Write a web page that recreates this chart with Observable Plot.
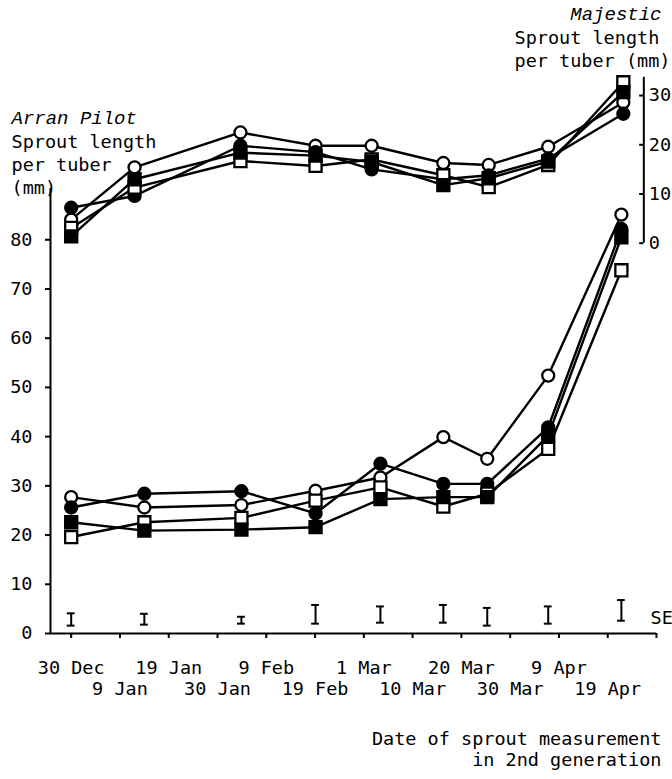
<!DOCTYPE html>
<html><head><meta charset="utf-8">
<script src="https://cdn.jsdelivr.net/npm/d3@7"></script>
<script src="https://cdn.jsdelivr.net/npm/@observablehq/plot@0.6"></script>
<style>body{margin:0;background:#fff}</style>
</head><body><div id="chart"></div>
<script>
// Measurement dates, in days after 30 Dec (axis ticks every 10 days)
const arranDays    = [0, 15.0, 34.9, 50.1, 63.4, 76.3, 85.3, 97.8, 112.8];
const majesticDays = [0, 13.0, 34.7, 50.1, 61.6, 76.3, 85.6, 97.8, 113.2];

// Arran Pilot sprout length per tuber (mm), left axis
const arranOpenCircle   = [27.7, 25.6, 26.1, 29.0, 31.7, 39.9, 35.5, 52.4, 85.1];
const arranFilledCircle = [25.6, 28.4, 28.9, 24.4, 34.5, 30.4, 30.4, 41.9, 82.2];
const arranOpenSquare   = [19.6, 22.6, 23.5, 27.0, 29.7, 25.8, 28.4, 37.5, 73.8];
const arranFilledSquare = [22.6, 20.9, 21.1, 21.6, 27.3, 27.7, 27.7, 40.2, 80.5];

// Majestic sprout length per tuber (mm), right axis
const majOpenCircle   = [4.8, 15.4, 22.5, 19.8, 19.8, 16.3, 15.9, 19.6, 28.6];
const majFilledCircle = [7.2, 9.6, 19.8, 18.5, 15.0, 13.0, 13.8, 17.2, 26.3];
const majOpenSquare   = [3.1, 11.3, 16.7, 15.7, 17.0, 13.8, 11.4, 15.9, 32.7];
const majFilledSquare = [1.4, 13.0, 18.4, 17.8, 16.5, 11.8, 13.2, 16.6, 30.7];

// Standard errors (bar ends, mm on left axis) at Arran Pilot dates
const seLow  = [1.6, 1.8, 2.0, 2.0, 2.2, 2.2, 1.6, 2.0, 2.6];
const seHigh = [4.1, 4.0, 3.4, 5.8, 5.5, 5.8, 5.2, 5.5, 6.8];

// Axes
const leftTicks  = [0, 10, 20, 30, 40, 50, 60, 70, 80];
const rightTicks = [0, 10, 20, 30];
const tickDays   = [0, 10, 20, 30, 40, 50, 60, 70, 80, 90, 100, 110, 120];
const tickLabels = ["30 Dec", "9 Jan", "19 Jan", "30 Jan", "9 Feb", "19 Feb",
                    "1 Mar", "10 Mar", "20 Mar", "30 Mar", "9 Apr", "19 Apr"];

// Layout constants
const majesticOffset = 79.3;   // right-axis zero, in left-axis units
const xDomain = [-4.24, 120];
const yDomain = [0, 115];
const leftAxisTop = 90.4;
const rightAxisDay = 117.4;
const rightAxisTop = 33.7;

const seriesDefs = [
  {name: "openCircle",   symbol: "circle", fill: "white", a: arranOpenCircle,   m: majOpenCircle},
  {name: "filledCircle", symbol: "circle", fill: "black", a: arranFilledCircle, m: majFilledCircle},
  {name: "openSquare",   symbol: "square", fill: "white", a: arranOpenSquare,   m: majOpenSquare},
  {name: "filledSquare", symbol: "square", fill: "black", a: arranFilledSquare, m: majFilledSquare}
];

const rows = [];
for (const s of seriesDefs) {
  s.a.forEach((v, i) => rows.push({variety: "Arran Pilot", series: s.name, day: arranDays[i], y: v}));
  s.m.forEach((v, i) => rows.push({variety: "Majestic", series: s.name, day: majesticDays[i], y: v + majesticOffset}));
}
const se = arranDays.map((d, i) => ({day: d, lo: seLow[i], hi: seHigh[i]}));
const rightTickRows = rightTicks.map(t => ({v: t, y: t + majesticOffset}));
const tickRows = tickLabels.map((t, i) => ({day: tickDays[i], label: t, row: i % 2}));

const font = "DejaVu Sans Mono";
const dotMarks = seriesDefs.map(s => Plot.dot(rows.filter(r => r.series === s.name), {
  x: "day", y: "y", symbol: s.symbol, fill: s.fill, stroke: "black",
  strokeWidth: 2.3, r: s.symbol === "circle" ? 6 : 6.8
}));

const chart = Plot.plot({
  width: 672, height: 779,
  marginLeft: 50, marginRight: 16, marginTop: 67, marginBottom: 146,
  style: {fontFamily: font, fontSize: "18.5px", background: "white", color: "black"},
  x: {domain: xDomain, axis: null},
  y: {domain: yDomain, axis: null},
  marks: [
    // left axis
    Plot.ruleX([xDomain[0]], {x: d => d, y1: 0, y2: leftAxisTop, strokeWidth: 2}),
    Plot.axisY({anchor: "left", ticks: leftTicks, tickSize: 5, tickPadding: 13, label: null, strokeWidth: 2}),
    // right axis (Majestic)
    Plot.ruleX([rightAxisDay], {x: d => d, y1: majesticOffset, y2: majesticOffset + rightAxisTop, strokeWidth: 2}),
    Plot.ruleY(rightTickRows, {y: "y", x1: rightAxisDay - 0.85, x2: rightAxisDay, strokeWidth: 2}),
    Plot.text(rightTickRows, {y: "y", x: rightAxisDay, text: d => String(d.v), dx: 5, textAnchor: "start"}),
    // x axis
    Plot.ruleY([0], {strokeWidth: 2}),
    Plot.axisX({ticks: tickDays, tickSize: 5, tickFormat: () => "", label: null, strokeWidth: 2}),
    Plot.text(tickRows.filter(d => d.row === 0), {x: "day", text: "label", frameAnchor: "bottom", dy: 40}),
    Plot.text(tickRows.filter(d => d.row === 1), {x: "day", text: "label", frameAnchor: "bottom", dy: 61}),
    // SE bars
    Plot.ruleX(se, {x: "day", y1: "lo", y2: "hi", strokeWidth: 2}),
    Plot.ruleY(se, {y: "lo", x1: d => d.day - 0.8, x2: d => d.day + 0.8, strokeWidth: 2}),
    Plot.ruleY(se, {y: "hi", x1: d => d.day - 0.8, x2: d => d.day + 0.8, strokeWidth: 2}),
    Plot.text(["SE"], {frameAnchor: "bottom-right", dx: -6, dy: -15, textAnchor: "start", lineAnchor: "middle"}),
    // data lines and markers
    Plot.line(rows, {x: "day", y: "y", z: d => d.variety + d.series, stroke: "black", strokeWidth: 2.4}),
    ...dotMarks,
    // titles
    Plot.text(["Majestic"], {frameAnchor: "top-right", dx: 5, dy: -54, textAnchor: "end", lineAnchor: "middle", fontStyle: "italic", fontFamily: "Liberation Mono", fontSize: 19}),
    Plot.text(["Sprout length\nper tuber (mm)"], {frameAnchor: "top-left", dx: 464, dy: -19, textAnchor: "start", lineAnchor: "middle", lineHeight: 1.24}),
    Plot.text(["Arran Pilot"], {frameAnchor: "top-left", dx: -39, dy: 50, textAnchor: "start", lineAnchor: "middle", fontStyle: "italic", fontFamily: "Liberation Mono", fontSize: 19}),
    Plot.text(["Sprout length\nper tuber\n(mm)"], {frameAnchor: "top-left", dx: -39, dy: 96, textAnchor: "start", lineAnchor: "middle", lineHeight: 1.24}),
    Plot.text(["Date of sprout measurement\nin 2nd generation"], {frameAnchor: "bottom-right", dx: 5, dy: 115, textAnchor: "end", lineAnchor: "middle", lineHeight: 1.17})
  ]
});
document.getElementById("chart").appendChild(chart);
</script>
</body></html>
